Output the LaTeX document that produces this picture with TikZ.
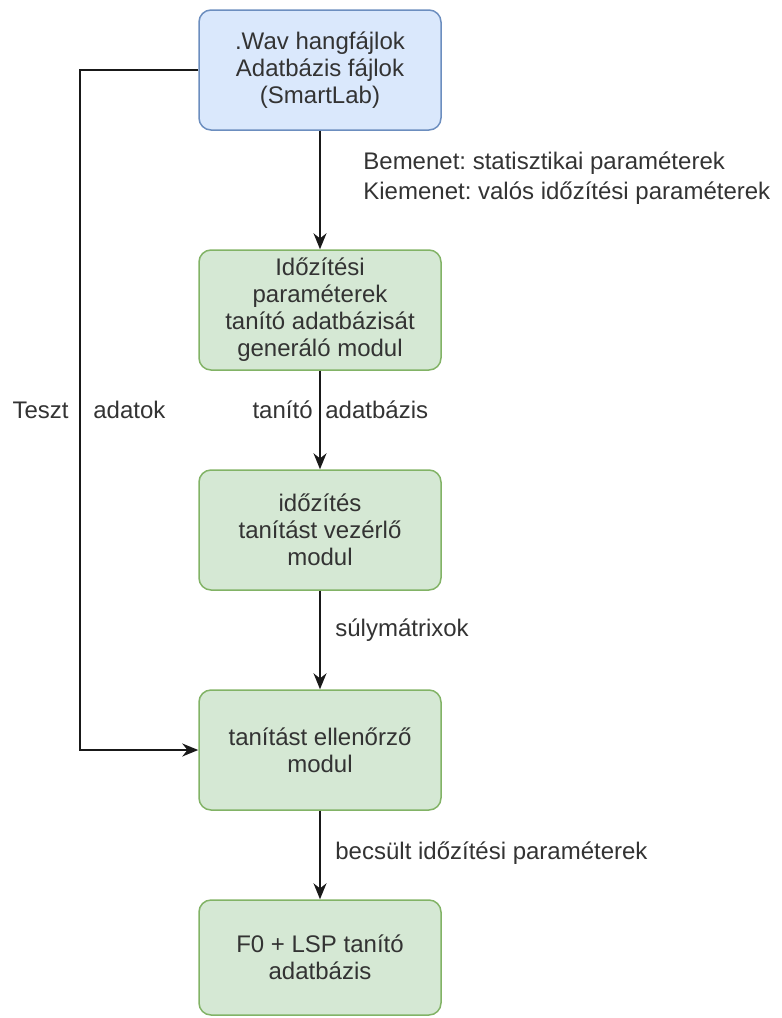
\documentclass[tikz,border=0pt]{standalone}
\usepackage{fontspec}
\setmainfont{Liberation Sans}
\frenchspacing
\usetikzlibrary{arrows.meta,positioning}
\definecolor{srcfill}{HTML}{DAE8FC}
\definecolor{srcline}{HTML}{6C8EBF}
\definecolor{modfill}{HTML}{D5E8D4}
\definecolor{modline}{HTML}{82B366}
\definecolor{txtgray}{HTML}{333333}
\tikzset{
  modbox/.style={draw=modline,fill=modfill,rounded corners=6pt,line width=0.75pt,
    minimum width=121pt,minimum height=60pt,align=center,text=txtgray,
    font=\fontsize{12}{13.5}\selectfont},
  srcbox/.style={modbox,draw=srcline,fill=srcfill},
  flow/.style={-{Stealth[length=8pt,width=6.5pt]},line width=1pt,draw=black!90},
  lbl/.style={text=txtgray,font=\fontsize{12}{15}\selectfont,inner sep=0pt}
}

\begin{document}
\begin{tikzpicture}[x=0.5pt,y=-0.5pt]
\useasboundingbox (0,0) rectangle (782,1018);
\node[srcbox] (src) at (320,70) {.Wav hangfájlok\\Adatbázis fájlok\\(SmartLab)};
\node[modbox] (gen) at (320,310) {Időzítési\\paraméterek\\tanító adatbázisát\\generáló modul};
\node[modbox] (ctrl) at (320,530) {időzítés\\tanítást vezérlő\\modul};
\node[modbox] (chk) at (320,750) {tanítást ellenőrző\\modul};
\node[modbox,minimum height=57.5pt] (f0) at (320,957.5) {F0 + LSP tanító\\adatbázis};
\draw[flow] (src) -- (gen);
\draw[flow] (gen) -- (ctrl);
\draw[flow] (ctrl) -- (chk);
\draw[flow] (chk) -- (f0);
\coordinate (tl) at (80,70);
\coordinate (bl) at (80,750);
\draw[flow] (src.west) -- (tl) -- (bl) -- (chk.west);
% edge labels
\node[lbl,anchor=west,align=left] (io) at (363,178) {Bemenet: statisztikai paraméterek\\Kiemenet: valós időzítési paraméterek};
\node[lbl,anchor=east] (tesztl) at (69,410) {Teszt};
\node[lbl,anchor=west] (tesztr) at (93,410) {adatok};
\node[lbl,anchor=east] (tanl) at (313,410) {tanító};
\node[lbl,anchor=west] (tanr) at (325,410) {adatbázis};
\node[lbl,anchor=west] (suly) at (335,630) {súlymátrixok};
\node[lbl,anchor=west] (becs) at (335,853) {becsült időzítési paraméterek};
\end{tikzpicture}
\end{document}
